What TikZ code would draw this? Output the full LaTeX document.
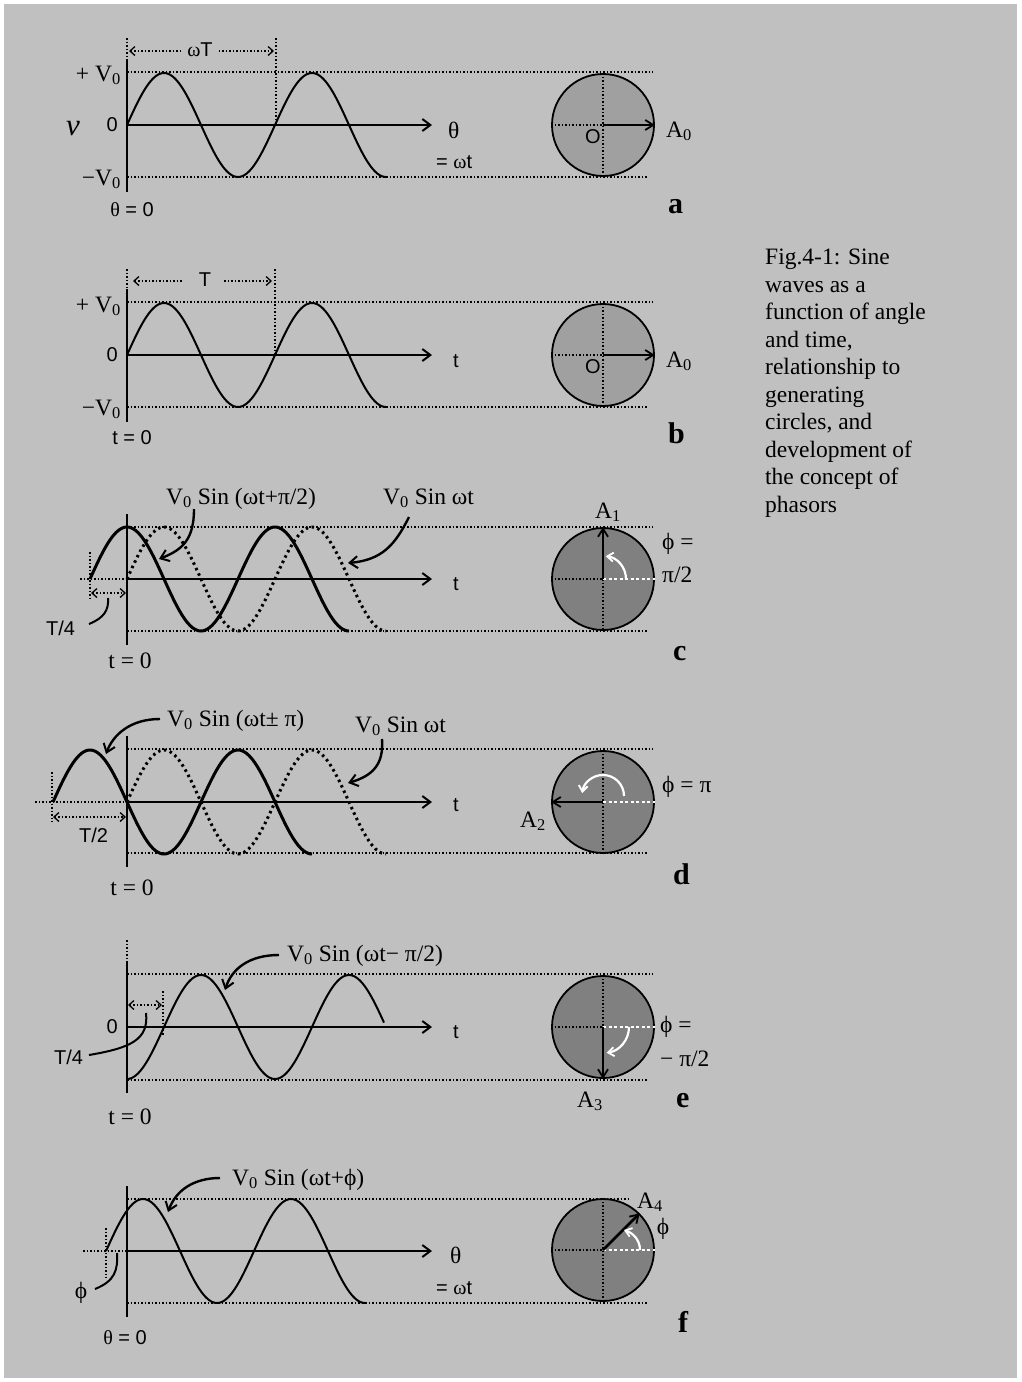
\documentclass[tikz,border=0pt]{standalone}
\usepackage{fontspec}
\setmainfont{Liberation Serif}
\setsansfont{Liberation Sans}
\usetikzlibrary{arrows.meta}
\definecolor{bg}{HTML}{C0C0C0}
\definecolor{discA}{HTML}{A0A0A0}
\definecolor{discB}{HTML}{808080}
\newcommand\Vz{V\textsubscript{0}}
\newcommand\gr[1]{{\rmfamily #1}}
\tikzset{
  dtip/.tip={Straight Barb[length=5pt,width=9pt,line width=1.3pt]},
  lbl/.style={font=\fontsize{23.5}{25}\selectfont\rmfamily, inner sep=0pt},
  slbl/.style={font=\fontsize{20}{22}\selectfont\sffamily, inner sep=0pt},
  tag/.style={font=\fontsize{30}{32}\selectfont\bfseries, inner sep=0pt},
  ax/.style={line width=2.6pt},
  axarrow/.style={line width=2.4pt, -{Straight Barb[length=8pt,width=12pt,line width=2pt]}},
  refl/.style={line width=1.5pt, dash pattern=on 1.5pt off 2pt},
  dimL/.style={refl, dtip-},
  dimR/.style={refl, -dtip},
  dimLR/.style={refl, dtip-dtip},
  wave/.style={line width=2pt},
  bwave/.style={line width=3pt},
  dwave/.style={line width=3pt, dash pattern=on 2.5pt off 3.5pt},
  leader/.style={line width=2.4pt, -{Straight Barb[length=8pt,width=12pt,line width=2pt]}},
  pointer/.style={line width=2pt},
  discA/.style={circle, minimum size=102pt, inner sep=0pt, fill=discA, draw=black, line width=1.8pt},
  discB/.style={circle, minimum size=102pt, inner sep=0pt, fill=discB, draw=black, line width=1.8pt},
  phasor/.style={line width=2.6pt, -{Straight Barb[length=8pt,width=10pt,line width=1.8pt]}},
  cross/.style={line width=1.5pt, dash pattern=on 1.5pt off 2pt},
  wcross/.style={white, line width=2.4pt, dash pattern=on 3pt off 2.5pt},
  warc/.style={white, line width=2.2pt, -{Straight Barb[length=6pt,width=9pt,line width=1.8pt]}},
}
\begin{document}
\begin{tikzpicture}[x=1pt,y=-1pt]
\fill[white] (0,0) rectangle (1021,1382);
\fill[bg] (4,4) rectangle (1017,1378);
\useasboundingbox (0,0) rectangle (1021,1382);

% ================= panel a =================
\draw[refl] (127,38) -- (127,60);
\draw[refl] (276,38) -- (276,125);
\draw[refl] (127,72) -- (653,72);
\draw[refl] (127,177) -- (647,177);
\node[slbl] (a-wT) at (200,50) {\gr{ω}T};
\draw[dimL] (129,51) -- ([xshift=-4pt]a-wT.west |- 0,51);
\draw[dimR] ([xshift=6pt]a-wT.east |- 0,51) -- (274,51);
\draw[ax] (127,60) -- (127,192);
\draw[axarrow] (127,125) -- (432,125);
\draw[wave] plot[domain=127:386, samples=120, smooth] (\x, {125-52*sin((\x-127)/148*360)});
\node[lbl, anchor=base east] (a-vp) at (121,81) {+ \Vz};
\node[slbl, anchor=base east] (a-zero) at (118,131) {0};
\node[lbl, anchor=base east] (a-vm) at (121,185) {−\Vz};
\node[inner sep=0pt, anchor=base west, font=\fontsize{31}{32}\selectfont\itshape] (a-v) at (66,135) {v};
\node[slbl, anchor=base] (a-th0) at (132,216) {\gr{θ} = 0};
\node[lbl, anchor=base west] (a-th) at (448,138) {θ};
\node[slbl, anchor=base west] (a-eq) at (436,168) {= \gr{ω}t};
\node[discA] (a-disc) at (603,125) {};
\draw[cross] (a-disc.north) -- (a-disc.south);
\draw[cross] (a-disc.west) -- (a-disc.center);
\draw[phasor] (a-disc.center) -- (a-disc.east);
\node[slbl, anchor=base west] (a-O) at (585,143) {O};
\node[lbl, anchor=base west] (a-A) at (666,137) {A\textsubscript{0}};
\node[tag, anchor=base west] (a-tag) at (668,213) {a};

% ================= panel b =================
\draw[refl] (127,269) -- (127,289);
\draw[refl] (275,269) -- (275,355);
\draw[refl] (127,302) -- (653,302);
\draw[refl] (127,407) -- (647,407);
\node[slbl] (b-T) at (205,280) {T};
\draw[dimL] (133,281) -- (183,281);
\draw[dimR] (224,281) -- (272,281);
\draw[ax] (127,289) -- (127,422);
\draw[axarrow] (127,355) -- (432,355);
\draw[wave] plot[domain=127:386, samples=120, smooth] (\x, {355-52*sin((\x-127)/148*360)});
\node[lbl, anchor=base east] (b-vp) at (121,312) {+ \Vz};
\node[slbl, anchor=base east] (b-zero) at (118,361) {0};
\node[lbl, anchor=base east] (b-vm) at (121,415) {−\Vz};
\node[slbl, anchor=base] (b-t0) at (132,444) {t = 0};
\node[slbl, anchor=base west] (b-t) at (453,367) {t};
\node[discA] (b-disc) at (603,355) {};
\draw[cross] (b-disc.north) -- (b-disc.south);
\draw[cross] (b-disc.west) -- (b-disc.center);
\draw[phasor] (b-disc.center) -- (b-disc.east);
\node[slbl, anchor=base west] (b-O) at (585,373) {O};
\node[lbl, anchor=base west] (b-A) at (666,367) {A\textsubscript{0}};
\node[tag, anchor=base west] (b-tag) at (668,443) {b};

% ================= panel c =================
\draw[refl] (80,579) -- (127,579);
\draw[refl] (90,552) -- (90,600);
\draw[refl] (127,527) -- (653,527);
\draw[refl] (127,631) -- (647,631);
\draw[dimLR] (91,593) -- (126,593);
\draw[ax] (127,514) -- (127,645);
\draw[axarrow] (127,579) -- (432,579);
\draw[dwave] plot[domain=127:386, samples=120, smooth] (\x, {579-52*sin((\x-127)/148*360)});
\draw[bwave] plot[domain=90:349, samples=120, smooth] (\x, {579-52*sin((\x-127)/148*360+90)});
\node[lbl, anchor=base west] (c-l1) at (166,504) {\Vz\ Sin (ωt+π/2)};
\node[lbl, anchor=base west] (c-l2) at (383,504) {\Vz\ Sin ωt};
\coordinate (c-s1) at (194,509);
\coordinate (c-e1) at (159,559);
\draw[leader] (c-s1) .. controls (194,540) and (182,550) .. (c-e1);
\coordinate (c-s2) at (409,517);
\coordinate (c-e2) at (348,563);
\draw[leader] (c-s2) .. controls (395,545) and (382,560) .. (c-e2);
\node[slbl, anchor=base west] (c-T4) at (46,635) {T/4};
\coordinate (c-s3) at (89,624);
\coordinate (c-e3) at (108,598);
\draw[pointer] (c-s3) .. controls (104,618) and (109,610) .. (c-e3);
\node[slbl, anchor=base west] (c-t) at (453,590) {t};
\node[lbl, anchor=base] (c-t0) at (130,668) {t = 0};
\node[discB] (c-disc) at (603,579) {};
\draw[cross] (c-disc.center) -- (c-disc.south);
\draw[cross] (c-disc.west) -- (c-disc.center);
\draw[wcross] (c-disc.center) -- (c-disc.east);
\draw[phasor] (c-disc.center) -- (c-disc.north);
\draw[warc] (626,579) arc[start angle=0, end angle=-83, radius=23];
\node[lbl, anchor=base west] (c-A) at (595,518) {A\textsubscript{1}};
\node[lbl, anchor=base west] (c-phi) at (662,549) {ϕ =};
\node[lbl, anchor=base west] (c-pi) at (662,582) {π/2};
\node[tag, anchor=base west] (c-tag) at (673,660) {c};

% ================= panel d =================
\draw[refl] (35,802) -- (127,802);
\draw[refl] (52,772) -- (52,822);
\draw[refl] (127,749) -- (653,749);
\draw[refl] (127,853) -- (647,853);
\draw[dimLR] (53,817) -- (126,817);
\draw[ax] (127,736) -- (127,867);
\draw[axarrow] (127,802) -- (432,802);
\draw[dwave] plot[domain=127:386, samples=120, smooth] (\x, {802-52*sin((\x-127)/148*360)});
\draw[bwave] plot[domain=53:312, samples=120, smooth] (\x, {802+52*sin((\x-127)/148*360)});
\node[lbl, anchor=base west] (d-l1) at (167,726) {\Vz\ Sin (ωt± π)};
\node[lbl, anchor=base west] (d-l2) at (355,732) {\Vz\ Sin ωt};
\coordinate (d-s1) at (160,719);
\coordinate (d-e1) at (106,754);
\draw[leader] (d-s1) .. controls (130,719) and (113,735) .. (d-e1);
\coordinate (d-s2) at (382,739);
\coordinate (d-e2) at (348,783);
\draw[leader] (d-s2) .. controls (384,765) and (372,776) .. (d-e2);
\node[slbl, anchor=base west] (d-T2) at (79,842) {T/2};
\node[slbl, anchor=base west] (d-t) at (453,811) {t};
\node[lbl, anchor=base] (d-t0) at (132,895) {t = 0};
\node[discB] (d-disc) at (603,802) {};
\draw[cross] (d-disc.north) -- (d-disc.south);
\draw[wcross] (d-disc.center) -- (d-disc.east);
\draw[phasor] (d-disc.center) -- (d-disc.west);
\draw[warc] (624,796) arc[start angle=0, end angle=-172, radius=21];
\node[lbl, anchor=base west] (d-phi) at (662,792) {ϕ = π};
\node[lbl, anchor=base west] (d-A) at (520,827) {A\textsubscript{2}};
\node[tag, anchor=base west] (d-tag) at (673,884) {d};

% ================= panel e =================
\draw[refl] (127,940) -- (127,962);
\draw[refl] (163,991) -- (163,1035);
\draw[refl] (127,974) -- (653,974);
\draw[refl] (127,1080) -- (647,1080);
\draw[dimLR] (128,1005) -- (162,1005);
\draw[ax] (127,962) -- (127,1093);
\draw[axarrow] (127,1027) -- (432,1027);
\draw[wave] plot[domain=127:384, samples=120, smooth] (\x, {1027-52*sin((\x-127)/148*360-90)});
\node[slbl, anchor=base east] (e-zero) at (118,1033) {0};
\node[slbl, anchor=base west] (e-T4) at (54,1064) {T/4};
\coordinate (e-s1) at (89,1055);
\coordinate (e-e1) at (146,1013);
\draw[pointer] (e-s1) .. controls (130,1048) and (149,1040) .. (e-e1);
\node[lbl, anchor=base west] (e-l1) at (287,961) {\Vz\ Sin (ωt− π/2)};
\coordinate (e-s2) at (279,955);
\coordinate (e-e2) at (225,990);
\draw[leader] (e-s2) .. controls (250,955) and (232,968) .. (e-e2);
\node[slbl, anchor=base west] (e-t) at (453,1038) {t};
\node[lbl, anchor=base] (e-t0) at (130,1124) {t = 0};
\node[discB] (e-disc) at (603,1027) {};
\draw[cross] (e-disc.north) -- (e-disc.center);
\draw[cross] (e-disc.west) -- (e-disc.center);
\draw[wcross] (e-disc.center) -- (e-disc.east);
\draw[phasor] (e-disc.center) -- (e-disc.south);
\draw[warc] (629,1027) arc[start angle=0, end angle=82, radius=26];
\node[lbl, anchor=base west] (e-phi) at (660,1032) {ϕ =};
\node[lbl, anchor=base west] (e-pi) at (660,1066) {− π/2};
\node[lbl, anchor=base west] (e-A) at (577,1107) {A\textsubscript{3}};
\node[tag, anchor=base west] (e-tag) at (676,1107) {e};

% ================= panel f =================
\draw[refl] (83,1251) -- (127,1251);
\draw[refl] (106,1228) -- (106,1278);
\draw[refl] (127,1199) -- (631,1199);
\draw[refl] (127,1303) -- (647,1303);
\draw[ax] (127,1186) -- (127,1317);
\draw[axarrow] (127,1251) -- (432,1251);
\draw[wave] plot[domain=106:365, samples=120, smooth] (\x, {1251-52*sin((\x-127)/148*360+51)});
\node[lbl] (f-phiL) at (81,1293) {ϕ};
\coordinate (f-s1) at (95,1289);
\coordinate (f-e1) at (117,1253);
\draw[pointer] (f-s1) .. controls (115,1281) and (118,1270) .. (f-e1);
\node[lbl, anchor=base west] (f-l1) at (232,1185) {\Vz\ Sin (ωt+ϕ)};
\coordinate (f-s2) at (220,1178);
\coordinate (f-e2) at (168,1212);
\draw[leader] (f-s2) .. controls (194,1178) and (176,1190) .. (f-e2);
\node[lbl, anchor=base west] (f-th) at (450,1263) {θ};
\node[slbl, anchor=base west] (f-eq) at (436,1294) {= \gr{ω}t};
\node[slbl, anchor=base] (f-th0) at (125,1344) {\gr{θ} = 0};
\node[discB] (f-disc) at (603,1250) {};
\draw[cross] (f-disc.north) -- (f-disc.south);
\draw[cross] (f-disc.west) -- (f-disc.center);
\draw[wcross] (f-disc.center) -- (f-disc.east);
\draw[phasor] (f-disc.center) -- (f-disc.45);
\draw[warc] (640,1250) .. controls (640,1240) and (633,1233) .. (624,1230);
\node[lbl, anchor=base west] (f-A) at (637,1208) {A\textsubscript{4}};
\node[lbl] (f-phi) at (663,1229) {ϕ};
\node[tag, anchor=base west] (f-tag) at (678,1332) {f};

% ================= caption =================
\node[anchor=north west, align=left, inner sep=0pt, font=\fontsize{23.5}{27.5}\selectfont] (cap) at (765,249)
{Fig.4-1: Sine\\waves as a\\function of angle\\and time,\\relationship to\\generating\\circles, and\\development of\\the concept of\\phasors};
\end{tikzpicture}
\end{document}
